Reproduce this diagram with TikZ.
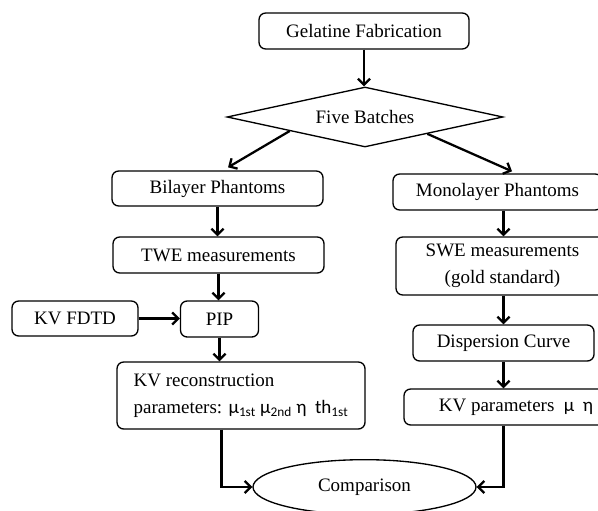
\documentclass[tikz,border=0pt]{standalone}
\usepackage{fontspec}
\setmainfont{Liberation Serif}
\newfontfamily\gk{Carlito}
\usetikzlibrary{shapes.geometric,arrows.meta,calc}
\begin{document}
\begin{tikzpicture}[x=0.75pt,y=-0.75pt,
  every node/.style={font=\fontsize{14.25}{20.25}\selectfont, inner sep=0pt},
  box/.style={draw, line width=1pt, rounded corners=5pt, minimum width=#1},
  arr/.style={line width=1.7pt, -{Straight Barb[length=4.5pt,width=9pt]}}]
\useasboundingbox (0,0) rectangle (598,510);
\node[box=157.5pt, minimum height=27pt] (gel) at (364,31) {Gelatine Fabrication};
\node[diamond, draw, line width=1pt, aspect=4.6, minimum width=207pt, minimum height=45pt] (five) at (365,117) {Five Batches};
\node[box=158.25pt, minimum height=26.25pt] (bil) at (217.5,188.5) {Bilayer Phantoms};
\node[box=158.25pt, minimum height=27pt] (twe) at (218.5,255) {TWE measurements};
\node[box=94.5pt, minimum height=26.25pt] (kvf) at (75,318.5) {KV FDTD};
\node[box=58.5pt, minimum height=27pt] (pip) at (219.5,319) {PIP};
\node[box=186pt, minimum height=50.25pt, align=left] (recon) at (241,395.5)
  {KV reconstruction\\parameters: {\gk μ\textsubscript{1st} μ\textsubscript{2nd} η \ th\textsubscript{1st}}};
\node[ellipse, draw, line width=1pt, minimum width=167.25pt, minimum height=41pt] (cmp) at (364.5,487) {Comparison};
\node[box=156.75pt, minimum height=27pt] (mono) at (497.5,192) {Monolayer Phantoms};
\node[box=159.75pt, minimum height=43.5pt, align=center] (swe) at (502.5,266) {SWE measurements\\(gold standard)};
\node[box=135.75pt, minimum height=27pt] (disp) at (503.5,343) {Dispersion Curve};
\node[box=168pt, minimum height=27pt] (kvp) at (516,407) {KV parameters \ {\gk μ \ η}};
% connectors
\draw[arr] (gel.south) -- (gel.south |- five.north);
\draw[arr] ($(five.west)!0.457!(five.south)$) -- ([xshift=7.9pt,yshift=2.25pt]bil.north);
\draw[arr] ($(five.south)!0.45!(five.east)$) -- ([xshift=10.9pt,yshift=1.5pt]mono.north);
\draw[arr] (bil.south) -- (bil.south |- twe.north);
\draw[arr] (twe.south) -- (twe.south |- pip.north);
\draw[arr] (kvf.east) -- (kvf.east -| pip.west);
\draw[arr] (pip.south) -- (pip.south |- recon.north);
\draw[arr] ($(recon.south -| pip.south)+(2,0)$) |- (cmp.west);
\draw[arr] (disp.north |- mono.south) -- (disp.north |- swe.north);
\draw[arr] (disp.north |- swe.south) -- (disp.north);
\draw[arr] (disp.south) -- (disp.south |- kvp.north);
\draw[arr] (disp.south |- kvp.south) |- (cmp.east);
\end{tikzpicture}
\end{document}
